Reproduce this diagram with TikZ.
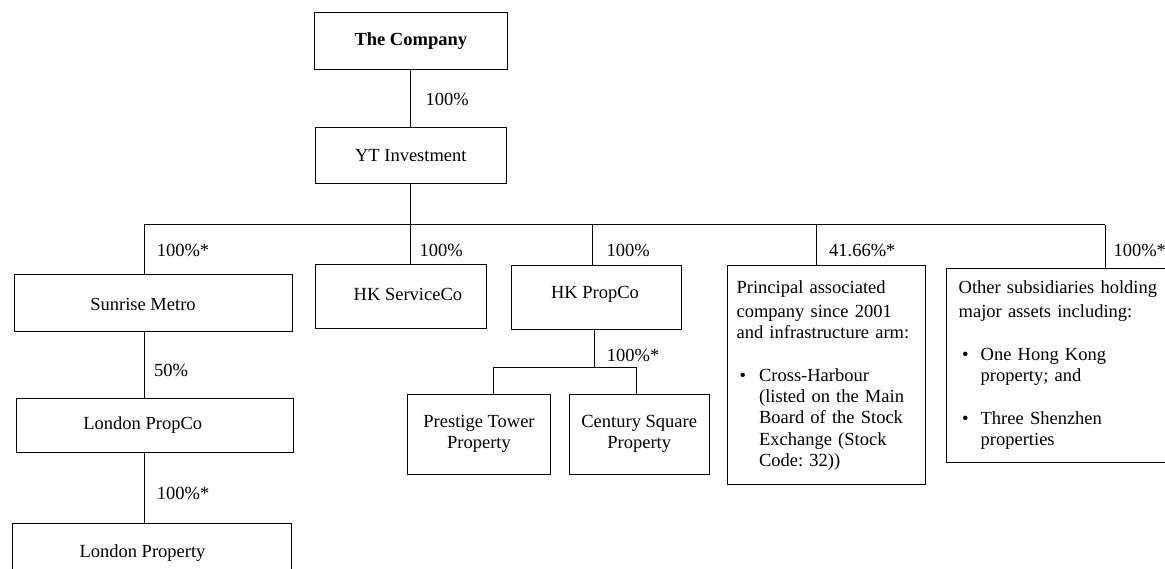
\documentclass[tikz,border=0pt]{standalone}
\usepackage{fontspec}
\setmainfont{Liberation Serif}
\begin{document}
\frenchspacing
\begin{tikzpicture}[x=1pt,y=-1pt,
  box/.style={draw, line width=1pt, inner sep=0pt, align=center},
  pct/.style={anchor=west, inner sep=0pt},
  conn/.style={line width=1pt}]
\fontsize{18.5}{21.3}\selectfont
\useasboundingbox (0,0) rectangle (1165,569);
\clip (0,0) rectangle (1165,569);
% boxes
\node[box, minimum width=193.6pt, minimum height=56.3pt] (comp) at (410.8,41) {\textbf{The Company}};
\node[box, minimum width=190.6pt, minimum height=56.3pt] (yt) at (410.8,155.2) {YT Investment};
\node[box, minimum width=278pt, minimum height=57.7pt,
  label={[xshift=-10.7pt,yshift=-1.5pt,inner sep=0pt]center:Sunrise Metro}] (sun) at (153.7,302.9) {};
\node[box, minimum width=276.6pt, minimum height=54.4pt,
  label={[xshift=-12.2pt,inner sep=0pt]center:London PropCo}] (lpc) at (155,425.5) {};
\node[box, minimum width=278.7pt, minimum height=60pt,
  label={[xshift=-9.2pt,inner sep=0pt]center:London Property}] (lpr) at (151.7,553.3) {};
\node[box, minimum width=170.3pt, minimum height=64pt,
  label={[xshift=7pt,yshift=3pt,inner sep=0pt]center:HK ServiceCo}] (svc) at (400.9,297) {};
\node[box, minimum width=169.4pt, minimum height=63.3pt,
  label={[xshift=-1.3pt,yshift=3pt,inner sep=0pt]center:HK PropCo}] (hkp) at (596.3,297.4) {};
\node[box, minimum width=143.4pt, minimum height=80.3pt] (pre) at (479,434.2) {Prestige Tower\\Property};
\node[box, minimum width=140.3pt, minimum height=80.3pt] (cen) at (639.2,434.2) {Century Square\\Property};
\node[box, minimum width=198pt, minimum height=219.3pt, text width=180pt, inner xsep=9pt, align=left] (pri) at (826.6,375.3)
 {\vspace*{3pt}Principal associated\\
  company since 2001\\
  and infrastructure arm:\\[21.3pt]
  \hspace*{3pt}\makebox[19.5pt][l]{\textbullet}Cross-Harbour\\
  \hspace*{22.5pt}(listed on the Main\\
  \hspace*{22.5pt}Board of the Stock\\
  \hspace*{22.5pt}Exchange (Stock\\
  \hspace*{22.5pt}Code: 32))};
\node[box, minimum width=240pt, minimum height=194pt, text width=216pt, inner xsep=12pt, align=left] (oth) at (1066.7,365.3)
 {\vspace*{3pt}Other subsidiaries holding\\
  major assets including:\\[21.3pt]
  \hspace*{3.5pt}\makebox[18.5pt][l]{\textbullet}One Hong Kong\\
  \hspace*{22pt}property; and\\[21.3pt]
  \hspace*{3.5pt}\makebox[18.5pt][l]{\textbullet}Three Shenzhen\\
  \hspace*{22pt}properties};
% branch points
\coordinate (bus) at (0,225);
\coordinate (b1) at (144,225);
\coordinate (b3) at (592.8,225);
\coordinate (b4) at (816.2,225);
\coordinate (b5) at (1105.2,225);
\coordinate (h1) at (594.7,367.7);
\coordinate (c1) at (493.3,367.7);
\coordinate (c2) at (636,367.7);
% connectors
\draw[conn] (comp.south) -- (yt.north);
\draw[conn] (yt.south) -- (yt.south |- bus);
\draw[conn] (b1) -- (b5);
\draw[conn] (b1) -- (b1 |- sun.north);
\draw[conn] (yt.south |- bus) -- (yt.south |- svc.north);
\draw[conn] (b3) -- (b3 |- hkp.north);
\draw[conn] (b4) -- (b4 |- pri.north);
\draw[conn] (b5) -- (b5 |- oth.north);
\draw[conn] (b1 |- sun.south) -- (b1 |- lpc.north);
\draw[conn] (b1 |- lpc.south) -- (b1 |- lpr.north);
\draw[conn] (h1 |- hkp.south) -- (h1);
\draw[conn] (c1 |- pre.north) -- (c1) -- (c2) -- (c2 |- cen.north);
% percentages
\node[pct] (l0) at (425.5,99) {100\%};
\node[pct] (l1) at (156.6,250) {100\%*};
\node[pct] (l2) at (419.3,250) {100\%};
\node[pct] (l3) at (606.5,250) {100\%};
\node[pct] (l4) at (829,250.5) {41.66\%*};
\node[pct] (l5) at (1113.3,250.5) {100\%*};
\node[pct] (l6) at (154,370) {50\%};
\node[pct] (l7) at (156.7,493.3) {100\%*};
\node[pct] (l8) at (606.7,355) {100\%*};
\end{tikzpicture}
\end{document}
